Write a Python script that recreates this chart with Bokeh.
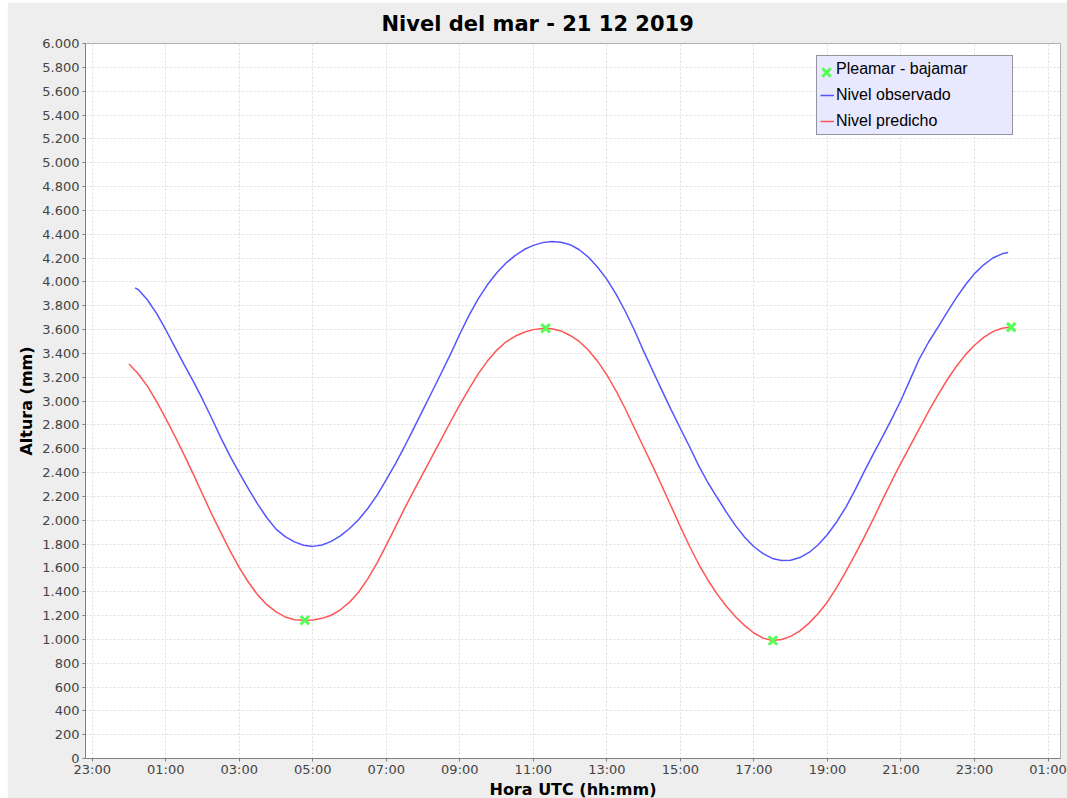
from bokeh.plotting import figure
from bokeh.models import (FixedTicker, CustomJSTickFormatter, ColumnDataSource,
                          Legend, LegendItem, Range1d)
from bokeh.embed import file_html
from bokeh.resources import INLINE

# Predicted sea level (mm) on 21-12-2019 (UTC), every 15 minutes
pred_time = ["00:00", "00:15", "00:30", "00:45", "01:00", "01:15", "01:30", "01:45",
             "02:00", "02:15", "02:30", "02:45", "03:00", "03:15", "03:30", "03:45",
             "04:00", "04:15", "04:30", "04:45", "05:00", "05:15", "05:30", "05:45",
             "06:00", "06:15", "06:30", "06:45", "07:00", "07:15", "07:30", "07:45",
             "08:00", "08:15", "08:30", "08:45", "09:00", "09:15", "09:30", "09:45",
             "10:00", "10:15", "10:30", "10:45", "11:00", "11:15", "11:30", "11:45",
             "12:00", "12:15", "12:30", "12:45", "13:00", "13:15", "13:30", "13:45",
             "14:00", "14:15", "14:30", "14:45", "15:00", "15:15", "15:30", "15:45",
             "16:00", "16:15", "16:30", "16:45", "17:00", "17:15", "17:30", "17:45",
             "18:00", "18:15", "18:30", "18:45", "19:00", "19:15", "19:30", "19:45",
             "20:00", "20:15", "20:30", "20:45", "21:00", "21:15", "21:30", "21:45",
             "22:00", "22:15", "22:30", "22:45", "23:00", "23:15", "23:30", "23:45",
             "24:00"]
pred_level = [3310, 3229, 3125, 2997, 2854, 2704, 2548, 2386,
              2218, 2051, 1895, 1742, 1602, 1479, 1373, 1291,
              1230, 1188, 1165, 1160, 1162, 1176, 1202, 1248,
              1312, 1397, 1509, 1642, 1790, 1944, 2101, 2248,
              2393, 2538, 2682, 2828, 2969, 3102, 3228, 3335,
              3425, 3495, 3543, 3577, 3599, 3609, 3606, 3588,
              3550, 3500, 3426, 3332, 3219, 3086, 2935, 2773,
              2612, 2451, 2285, 2115, 1945, 1781, 1630, 1496,
              1379, 1277, 1190, 1115, 1053, 1010, 990, 998,
              1025, 1071, 1136, 1217, 1314, 1434, 1569, 1708,
              1857, 2011, 2172, 2329, 2478, 2623, 2769, 2912,
              3048, 3174, 3288, 3387, 3468, 3534, 3582, 3610,
              3620]

# Observed sea level (mm)
obs_time = ["00:10", "00:15", "00:30", "00:45", "01:00", "01:15", "01:30", "01:45",
            "02:00", "02:15", "02:30", "02:45", "03:00", "03:15", "03:30", "03:45",
            "04:00", "04:15", "04:30", "04:45", "05:00", "05:15", "05:30", "05:45",
            "06:00", "06:15", "06:30", "06:45", "07:00", "07:15", "07:30", "07:45",
            "08:00", "08:15", "08:30", "08:45", "09:00", "09:15", "09:30", "09:45",
            "10:00", "10:15", "10:30", "10:45", "11:00", "11:15", "11:30", "11:45",
            "12:00", "12:15", "12:30", "12:45", "13:00", "13:15", "13:30", "13:45",
            "14:00", "14:15", "14:30", "14:45", "15:00", "15:15", "15:30", "15:45",
            "16:00", "16:15", "16:30", "16:45", "17:00", "17:15", "17:30", "17:45",
            "18:00", "18:15", "18:30", "18:45", "19:00", "19:15", "19:30", "19:45",
            "20:00", "20:15", "20:30", "20:45", "21:00", "21:15", "21:30", "21:45",
            "22:00", "22:15", "22:30", "22:45", "23:00", "23:15", "23:30", "23:45",
            "23:55"]
obs_level = [3950, 3935, 3850, 3735, 3598, 3452, 3305, 3165,
             3015, 2855, 2690, 2538, 2396, 2262, 2135, 2020,
             1925, 1862, 1818, 1790, 1780, 1792, 1822, 1868,
             1930, 2006, 2100, 2210, 2340, 2475, 2620, 2772,
             2928, 3082, 3237, 3395, 3562, 3718, 3857, 3975,
             4074, 4156, 4220, 4271, 4306, 4329, 4338, 4332,
             4312, 4269, 4206, 4123, 4021, 3897, 3753, 3594,
             3418, 3252, 3087, 2925, 2769, 2616, 2456, 2314,
             2190, 2068, 1954, 1856, 1777, 1719, 1679, 1661,
             1663, 1686, 1729, 1794, 1880, 1985, 2108, 2252,
             2407, 2556, 2701, 2850, 3006, 3179, 3354, 3493,
             3615, 3741, 3863, 3973, 4069, 4143, 4200, 4235,
             4246]

# High / low water
tide_time = ["04:47", "11:20", "17:31", "24:00"]
tide_level = [1160, 3610, 990, 3620]

x_ticks = [-1, 1, 3, 5, 7, 9, 11, 13, 15, 17, 19, 21, 23, 25]
y_ticks = list(range(0, 6001, 200))


def to_hours(t):
    hh, mm = t.split(":")
    return int(hh) + int(mm) / 60.0


pred_src = ColumnDataSource(dict(x=[to_hours(t) for t in pred_time], y=pred_level))
obs_src = ColumnDataSource(dict(x=[to_hours(t) for t in obs_time], y=obs_level))
tide_src = ColumnDataSource(dict(x=[to_hours(t) for t in tide_time], y=tide_level))

p = figure(output_backend="svg", toolbar_location=None,
           frame_width=975, frame_height=715,
           x_range=Range1d(-1.183, 25.34), y_range=Range1d(0, 6000),
           min_border_left=78, min_border_right=7, min_border_top=32,
           min_border_bottom=41)
p.margin = (2, 0, 0, 7)
p.border_fill_color = "#EEEEEE"
p.background_fill_color = "white"
p.outline_line_color = "#B0B0B0"

p.title.text = "Nivel del mar - 21 12 2019"
p.title.align = "left"
p.title.offset = 296
p.title.standoff = 15
p.title.text_font = "DejaVu Sans"
p.title.text_font_style = "bold"
p.title.text_font_size = "21px"
p.title.text_color = "black"

p.xaxis.ticker = FixedTicker(ticks=x_ticks)
p.yaxis.ticker = FixedTicker(ticks=y_ticks)
p.xaxis.formatter = CustomJSTickFormatter(code="""
    const h = ((Math.round(tick) % 24) + 24) % 24;
    return (h < 10 ? "0" : "") + h + ":00";
""")
p.yaxis.formatter = CustomJSTickFormatter(code="""
    const s = Math.round(tick).toString();
    return s.replace(/\\B(?=(\\d{3})+(?!\\d))/g, ".");
""")

p.axis.minor_tick_line_color = None
p.axis.major_tick_out = 3
p.axis.major_tick_in = 0
p.axis.axis_line_color = "#808080"
p.axis.major_tick_line_color = "#808080"
p.axis.major_label_text_font = "DejaVu Sans"
p.axis.major_label_text_font_size = "13px"
p.axis.major_label_text_color = "#444444"
p.axis.axis_label_text_font = "DejaVu Sans"
p.axis.axis_label_text_font_style = "bold"
p.axis.axis_label_text_font_size = "16px"
p.axis.axis_label_text_color = "black"
p.xaxis.axis_label = "Hora UTC (hh:mm)"
p.yaxis.axis_label = "Altura (mm)"
p.xaxis.major_label_standoff = 0
p.xaxis.axis_label_standoff = 0
p.yaxis.major_label_standoff = 3
p.yaxis.axis_label_standoff = 3

p.grid.grid_line_color = "#DDDDDD"
p.grid.grid_line_dash = "2 2"
p.grid.grid_line_width = 1

r_obs = p.line("x", "y", source=obs_src, line_color="#5555FF", line_width=1.5)
r_pred = p.line("x", "y", source=pred_src, line_color="#FF5555", line_width=1.5)
r_tide = p.scatter("x", "y", source=tide_src, marker="x", size=12,
                   line_color="#55FF55", line_width=3)

# Legend box with the labels; the first row's marker is drawn by a second,
# transparent legend so that the cross keeps its full size.
legend = Legend(items=[
    LegendItem(label="Pleamar - bajamar", renderers=[]),
    LegendItem(label="Nivel observado", renderers=[r_obs]),
    LegendItem(label="Nivel predicho", renderers=[r_pred]),
], location=(731, 623))
legend.background_fill_color = "#E8E8FF"
legend.background_fill_alpha = 1.0
legend.border_line_color = "#404040"
legend.border_line_width = 1
legend.padding = 3
legend.spacing = 6
legend.margin = 0
legend.glyph_width = 14
legend.glyph_height = 20
legend.label_standoff = 2
legend.label_height = 20
legend.label_width = 173
legend.label_text_font = "Liberation Sans"
legend.label_text_font_size = "16px"
legend.label_text_color = "black"
p.add_layout(legend)

marker_key = Legend(items=[LegendItem(label=" ", renderers=[r_tide])],
                    location=(726, 671))
marker_key.background_fill_alpha = 0
marker_key.border_line_alpha = 0
marker_key.padding = 0
marker_key.margin = 0
marker_key.glyph_width = 30
marker_key.glyph_height = 30
marker_key.label_standoff = 0
marker_key.label_width = 0
marker_key.label_text_font_size = "2px"
p.add_layout(marker_key)

open("out.html", "w").write(file_html(p, INLINE))
